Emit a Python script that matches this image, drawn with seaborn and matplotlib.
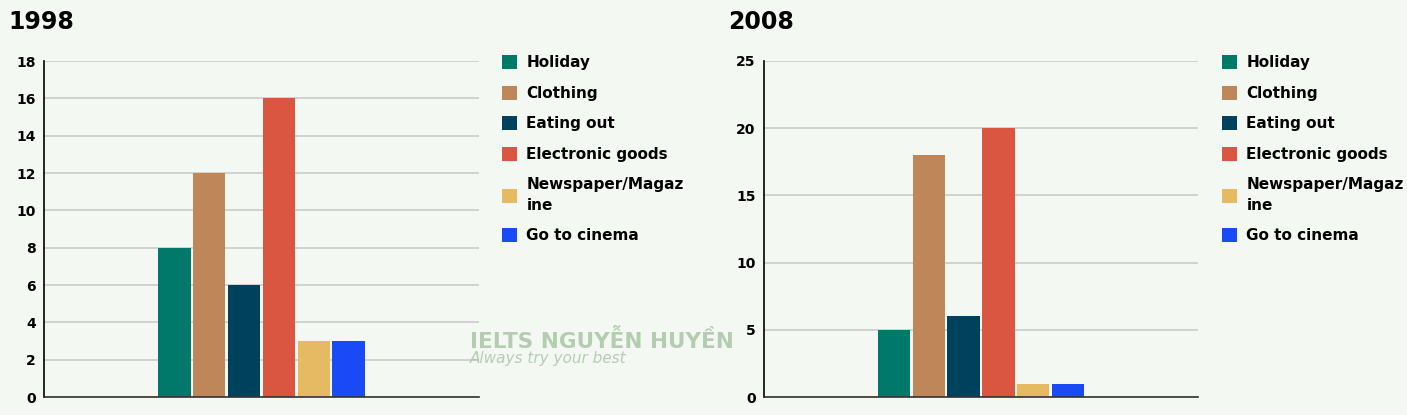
import pandas as pd
import matplotlib.pyplot as plt
import seaborn as sns

# spending share by category, two years
categories = ['Holiday', 'Clothing', 'Eating out', 'Electronic goods',
              'Newspaper/Magaz\nine', 'Go to cinema']
values_1998 = [8, 12, 6, 16, 3, 3]
values_2008 = [5, 18, 6, 20, 1, 1]
colors = ['#00796b', '#bf865a', '#00425e', '#db5640', '#e6b963', '#1a4af5']

bg = '#f4f8f3'
sns.set_theme(style='white')
plt.rcParams['font.family'] = ['DejaVu Sans']
plt.rcParams['text.color'] = 'black'
plt.rcParams['ytick.color'] = 'black'
plt.rcParams['xtick.color'] = 'black'

fig = plt.figure(figsize=(14.07, 4.15), dpi=100, facecolor=bg)
W, H = 1407, 415

panels = [
    ('1998', values_1998, 44, 435, 18, 2),
    ('2008', values_2008, 764, 434, 25, 5),
]

for title, vals, x0, w, ymax, step in panels:
    df = pd.DataFrame({'year': title, 'category': categories, 'value': vals})
    ax = fig.add_axes([x0 / W, 1 - 397 / H, w / W, 336 / H])
    ax.set_facecolor(bg)
    sns.barplot(data=df, x='year', y='value', hue='category', palette=colors,
                width=0.48, gap=0.07, ax=ax, saturation=1, linewidth=0)
    ax.set_ylim(0, ymax)
    ax.set_yticks(range(0, ymax + 1, step))
    ax.set_xticks([])
    ax.set_xlabel('')
    ax.set_ylabel('')
    ax.yaxis.grid(True, color='#c9ccc8', linewidth=1.2)
    ax.set_axisbelow(True)
    for s in ['top', 'right']:
        ax.spines[s].set_visible(False)
    ax.spines['left'].set_color('black')
    ax.spines['bottom'].set_color('#333333')
    ax.spines['left'].set_linewidth(1.2)
    ax.spines['bottom'].set_linewidth(1.2)
    ax.tick_params(axis='y', length=0, pad=6, labelsize=10, labelcolor='black')
    for lab in ax.get_yticklabels():
        lab.set_fontweight('bold')

    fig.text((x0 - 36) / W, 1 - 22 / H, title, fontsize=17, fontweight='bold',
             va='center', ha='left', color='black')

    handles, labels = ax.get_legend_handles_labels()
    leg = ax.legend(handles, labels, loc='upper left', frameon=False,
                    bbox_to_anchor=((x0 + 458) / W, 1 - 55 / H),
                    bbox_transform=fig.transFigure, borderaxespad=0, borderpad=0,
                    handlelength=1.0, handleheight=1.05, handletextpad=0.6,
                    labelspacing=1.0, prop={'weight': 'bold', 'size': 11})
    for t in leg.get_texts():
        t.set_color('black')
        t.set_linespacing(1.45)

# faint watermark
fig.text(470 / W, 1 - 340 / H, 'IELTS NGUYỄN HUYỀN', fontsize=15.5, fontweight='bold',
         color='#a9c6a5', alpha=0.85, va='center')
fig.text(470 / W, 1 - 358 / H, 'Always try your best', fontsize=11, style='italic',
         color='#a9c6a5', alpha=0.85, va='center')

plt.savefig('out.png', dpi=100, facecolor=bg)
plt.close()
